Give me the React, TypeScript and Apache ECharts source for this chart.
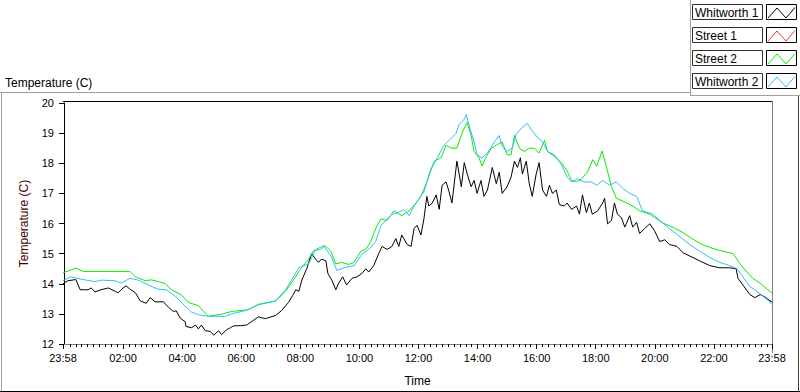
import React, { useEffect, useRef } from "react";
import * as echarts from "echarts";

// Time in minutes since midnight (-2 = 23:58 previous day, 1438 = 23:58)
const WHITWORTH1_TIMES = [-2,8,24,33,49,55,63,75,90,104,110,120,126,134,145,155,167,175,185,202,212,222,228,236,246,248,259,267,273,279,287,297,304,314,320,330,338,344,359,371,395,409,430,442,456,464,471,477,483,493,503,511,517,523,532,536,544,552,558,566,574,585,595,605,613,619,629,640,646,656,666,674,680,686,697,705,711,717,725,731,737,741,748,756,762,768,776,782,788,798,807,813,819,827,833,839,847,853,860,870,878,884,890,900,908,915,921,927,931,939,945,951,959,965,972,980,986,992,1000,1006,1016,1022,1031,1041,1047,1053,1061,1067,1073,1084,1094,1098,1104,1112,1118,1124,1132,1139,1149,1155,1163,1169,1179,1190,1200,1210,1220,1230,1245,1257,1271,1291,1312,1332,1352,1365,1369,1379,1393,1403,1414,1424,1434,1438];
const WHITWORTH1_TEMPS = [14.0,14.1,14.14,13.8,13.8,13.86,13.73,13.8,13.86,13.75,13.7,13.86,13.93,13.82,13.7,13.43,13.35,13.54,13.4,13.4,13.22,13.08,13.1,12.86,12.74,12.58,12.54,12.63,12.5,12.63,12.44,12.42,12.29,12.44,12.31,12.47,12.54,12.6,12.61,12.63,12.9,12.84,12.95,13.11,13.38,13.6,13.8,13.75,14.12,14.5,15.0,14.82,14.71,14.82,14.76,14.34,14.12,13.8,14.02,14.23,13.96,14.18,14.23,14.34,14.5,14.39,14.6,15.03,15.24,15.14,15.24,15.5,15.24,15.62,15.3,15.24,15.83,15.94,15.62,16.15,16.9,16.58,16.68,16.95,16.47,17.27,17.38,17.06,16.68,18.07,17.22,18.02,17.64,17.22,17.43,17.0,17.43,16.9,17.11,17.86,17.32,17.7,17.0,17.22,17.54,18.07,17.86,18.18,17.64,18.07,17.32,16.9,17.64,18.02,17.11,16.9,17.27,17.0,17.11,16.63,16.58,16.68,16.47,16.58,16.31,16.95,16.36,16.68,16.31,16.42,16.68,16.84,15.99,16.1,16.68,16.31,16.2,15.88,16.26,15.88,16.04,15.67,15.83,15.99,15.74,15.4,15.46,15.3,15.24,15.03,14.92,14.76,14.6,14.53,14.53,14.5,14.18,13.96,13.64,13.54,13.64,13.56,13.43,13.4];

const STREET2_TIMES = [-2,24,39,134,145,165,177,192,206,218,238,253,273,293,320,340,375,395,430,450,466,481,497,507,521,530,542,552,564,578,589,603,613,623,633,644,656,670,686,701,715,725,737,752,766,776,786,798,809,819,827,833,843,849,858,868,878,890,900,908,915,925,935,945,955,965,976,982,996,1010,1020,1031,1041,1051,1063,1074,1082,1093,1102,1112,1122,1143,1155,1169,1190,1204,1216,1236,1257,1277,1297,1318,1338,1359,1373,1387,1399,1414,1428,1438];
const STREET2_TEMPS = [14.36,14.52,14.41,14.41,14.23,14.1,14.13,14.07,14.0,13.8,13.64,13.38,13.27,12.92,12.99,13.08,13.14,13.32,13.43,13.75,14.12,14.5,14.82,15.1,15.14,15.27,15.08,14.66,14.71,14.64,14.71,15.08,15.14,15.4,15.83,16.15,16.1,16.42,16.26,16.42,16.68,16.9,17.38,18.07,18.18,18.6,18.5,18.5,19.03,19.35,18.92,18.39,18.18,17.91,18.23,18.5,18.6,18.71,18.28,18.28,18.92,18.5,18.39,18.5,18.5,18.34,18.76,18.39,18.23,18.02,17.8,17.43,17.38,17.48,17.7,18.12,17.9,18.41,17.86,17.22,16.84,16.68,16.58,16.42,16.31,16.15,16.02,15.88,15.7,15.48,15.3,15.17,15.08,15.0,14.66,14.39,14.18,14.02,13.82,13.7];

const WHITWORTH2_TIMES = [-2,14,35,63,75,104,116,134,151,171,191,208,226,242,259,273,293,328,340,369,395,430,450,462,477,497,511,528,544,554,572,589,605,619,633,644,654,666,680,690,701,711,731,745,758,772,786,796,803,813,817,823,833,839,849,860,874,884,890,900,910,919,931,941,951,961,972,982,996,1010,1022,1031,1043,1057,1071,1082,1094,1108,1122,1135,1149,1163,1175,1196,1210,1230,1251,1271,1291,1312,1332,1352,1367,1379,1393,1407,1420,1438];
const WHITWORTH2_TEMPS = [14.1,14.23,14.15,14.07,14.12,14.1,14.02,14.18,14.12,13.96,13.82,13.8,13.59,13.32,13.06,12.97,12.92,12.92,13.0,13.11,13.3,13.43,13.8,14.12,14.53,14.66,15.14,15.26,14.87,14.44,14.55,14.6,14.98,15.14,15.4,15.94,16.1,16.31,16.36,16.47,16.26,16.58,17.06,17.8,18.18,18.6,18.82,18.98,19.3,19.46,19.62,19.24,18.71,18.28,18.18,18.34,18.71,18.92,18.55,18.39,18.5,18.98,19.19,19.32,19.08,18.87,18.71,18.39,18.28,17.96,17.54,17.38,17.48,17.38,17.38,17.27,17.43,17.27,17.38,17.16,17.0,16.9,16.42,16.31,16.1,15.83,15.56,15.3,15.08,14.87,14.71,14.6,14.5,14.23,13.91,13.75,13.59,13.32];

const LEGEND_NAMES = ["Whitworth 1", "Street 1", "Street 2", "Whitworth 2"];
const LEGEND_COLORS = ["#000000", "#ff3030", "#00ee00", "#33bbff"];

const X_MIN = -2;
const X_MAX = 1438;
const MAJOR_TICKS = [-2, 120, 240, 360, 480, 600, 720, 840, 960, 1080, 1200, 1320, 1438];
const MINOR_TICKS: number[] = [];
for (let m = 12; m <= 1428; m += 12) if (m % 120 !== 0) MINOR_TICKS.push(m);

const FONT = "Liberation Sans, Arial, sans-serif";

function pairs(t: number[], v: number[]) {
  return t.map((x, i) => [x, v[i]]);
}

function fmtTime(v: number) {
  if (v < 0 || v > 1430) return "23:58";
  const h = Math.round(v / 60);
  return (h < 10 ? "0" : "") + h + ":00";
}

export default function App() {
  const ref = useRef<HTMLDivElement>(null);
  useEffect(() => {
    if (!ref.current) return;
    const chart = echarts.init(ref.current, undefined, { renderer: "svg" });
    const graphic: any[] = [
      // outer frame
      { type: "line", shape: { x1: 0, y1: 92.5, x2: 690, y2: 92.5 }, style: { stroke: "#a0a0a0", lineWidth: 1 } },
      { type: "line", shape: { x1: 1.5, y1: 92, x2: 1.5, y2: 391 }, style: { stroke: "#a0a0a0", lineWidth: 1 } },
      { type: "line", shape: { x1: 0, y1: 391.5, x2: 800, y2: 391.5 }, style: { stroke: "#000", lineWidth: 1 } },
      { type: "line", shape: { x1: 798.5, y1: 95, x2: 798.5, y2: 392 }, style: { stroke: "#404040", lineWidth: 1 } },
      { type: "line", shape: { x1: 690.5, y1: 0, x2: 690.5, y2: 95 }, style: { stroke: "#a0a0a0", lineWidth: 1 } },
      { type: "line", shape: { x1: 690, y1: 95.5, x2: 800, y2: 95.5 }, style: { stroke: "#a0a0a0", lineWidth: 1 } },
      // plot frame top/right
      { type: "line", shape: { x1: 63, y1: 101.5, x2: 773, y2: 101.5 }, style: { stroke: "#000", lineWidth: 1 } },
      { type: "line", shape: { x1: 772.5, y1: 101, x2: 772.5, y2: 353 }, style: { stroke: "#808080", lineWidth: 1 } },
      // title
      { type: "text", x: 5, y: 83, style: { text: "Temperature (C)", font: "12px " + FONT, fill: "#000", textVerticalAlign: "middle" } },
    ];
    LEGEND_NAMES.forEach((name, i) => {
      const top = 4.5 + i * 23;
      graphic.push({ type: "rect", shape: { x: 692.5, y: top, width: 70, height: 15 }, style: { fill: "#fff", stroke: "#303030", lineWidth: 1 } });
      graphic.push({ type: "text", x: 695, y: top + 8, style: { text: name, font: "12px " + FONT, fill: "#000", textVerticalAlign: "middle" } });
      graphic.push({ type: "rect", shape: { x: 766.5, y: top, width: 30, height: 15 }, style: { fill: "#fff", stroke: "#000", lineWidth: 1 } });
      graphic.push({
        type: "polyline",
        shape: { points: [[768, top + 13.5], [777, top + 3.5], [786, top + 13.5], [795, top + 3]] },
        style: { stroke: LEGEND_COLORS[i], lineWidth: 1, fill: "none" },
      });
    });

    const seriesDefs = [
      { name: "Whitworth 1", color: LEGEND_COLORS[0], data: pairs(WHITWORTH1_TIMES, WHITWORTH1_TEMPS) },
      { name: "Street 2", color: LEGEND_COLORS[2], data: pairs(STREET2_TIMES, STREET2_TEMPS) },
      { name: "Whitworth 2", color: LEGEND_COLORS[3], data: pairs(WHITWORTH2_TIMES, WHITWORTH2_TEMPS) },
    ];

    chart.setOption({
      animation: false,
      backgroundColor: "#fff",
      grid: { left: 63, right: 28, top: 103, height: 250, containLabel: false },
      xAxis: [
        {
          type: "value",
          min: X_MIN,
          max: X_MAX,
          position: "bottom",
          name: "Time",
          nameLocation: "middle",
          nameGap: 31,
          nameTextStyle: { fontFamily: FONT, fontSize: 12, color: "#000" },
          axisLine: { show: true, lineStyle: { color: "#808080", width: 1 } },
          axisTick: { show: true, length: 5, lineStyle: { color: "#000" }, customValues: MAJOR_TICKS },
          axisLabel: { show: true, customValues: MAJOR_TICKS, formatter: (v: number) => fmtTime(v), fontFamily: FONT, fontSize: 11, color: "#000", margin: 8 },
          splitLine: { show: false },
        },
        {
          type: "value",
          min: X_MIN,
          max: X_MAX,
          position: "bottom",
          axisLine: { show: false },
          axisTick: { show: true, length: 3, lineStyle: { color: "#000" }, customValues: MINOR_TICKS },
          axisLabel: { show: false },
          splitLine: { show: false },
        },
      ],
      yAxis: {
        type: "value",
        min: 12,
        max: 20,
        interval: 1,
        name: "Temperature (C)",
        nameLocation: "middle",
        nameGap: 33,
        nameTextStyle: { fontFamily: FONT, fontSize: 12, color: "#400000" },
        axisLine: { show: true, lineStyle: { color: "#000", width: 1 } },
        axisTick: { show: true, length: 5, lineStyle: { color: "#000" } },
        axisLabel: { fontFamily: FONT, fontSize: 11, color: "#000", margin: 9 },
        splitLine: { show: false },
      },
      series: seriesDefs.map((s) => ({
        type: "line",
        name: s.name,
        xAxisIndex: 0,
        data: s.data,
        showSymbol: false,
        symbol: "none",
        lineStyle: { color: s.color, width: 1 },
        itemStyle: { color: s.color },
      })),
      graphic,
    });
    return () => chart.dispose();
  }, []);
  return <div ref={ref} style={{ position: "fixed", left: 0, top: 0, width: 800, height: 392 }} />;
}
